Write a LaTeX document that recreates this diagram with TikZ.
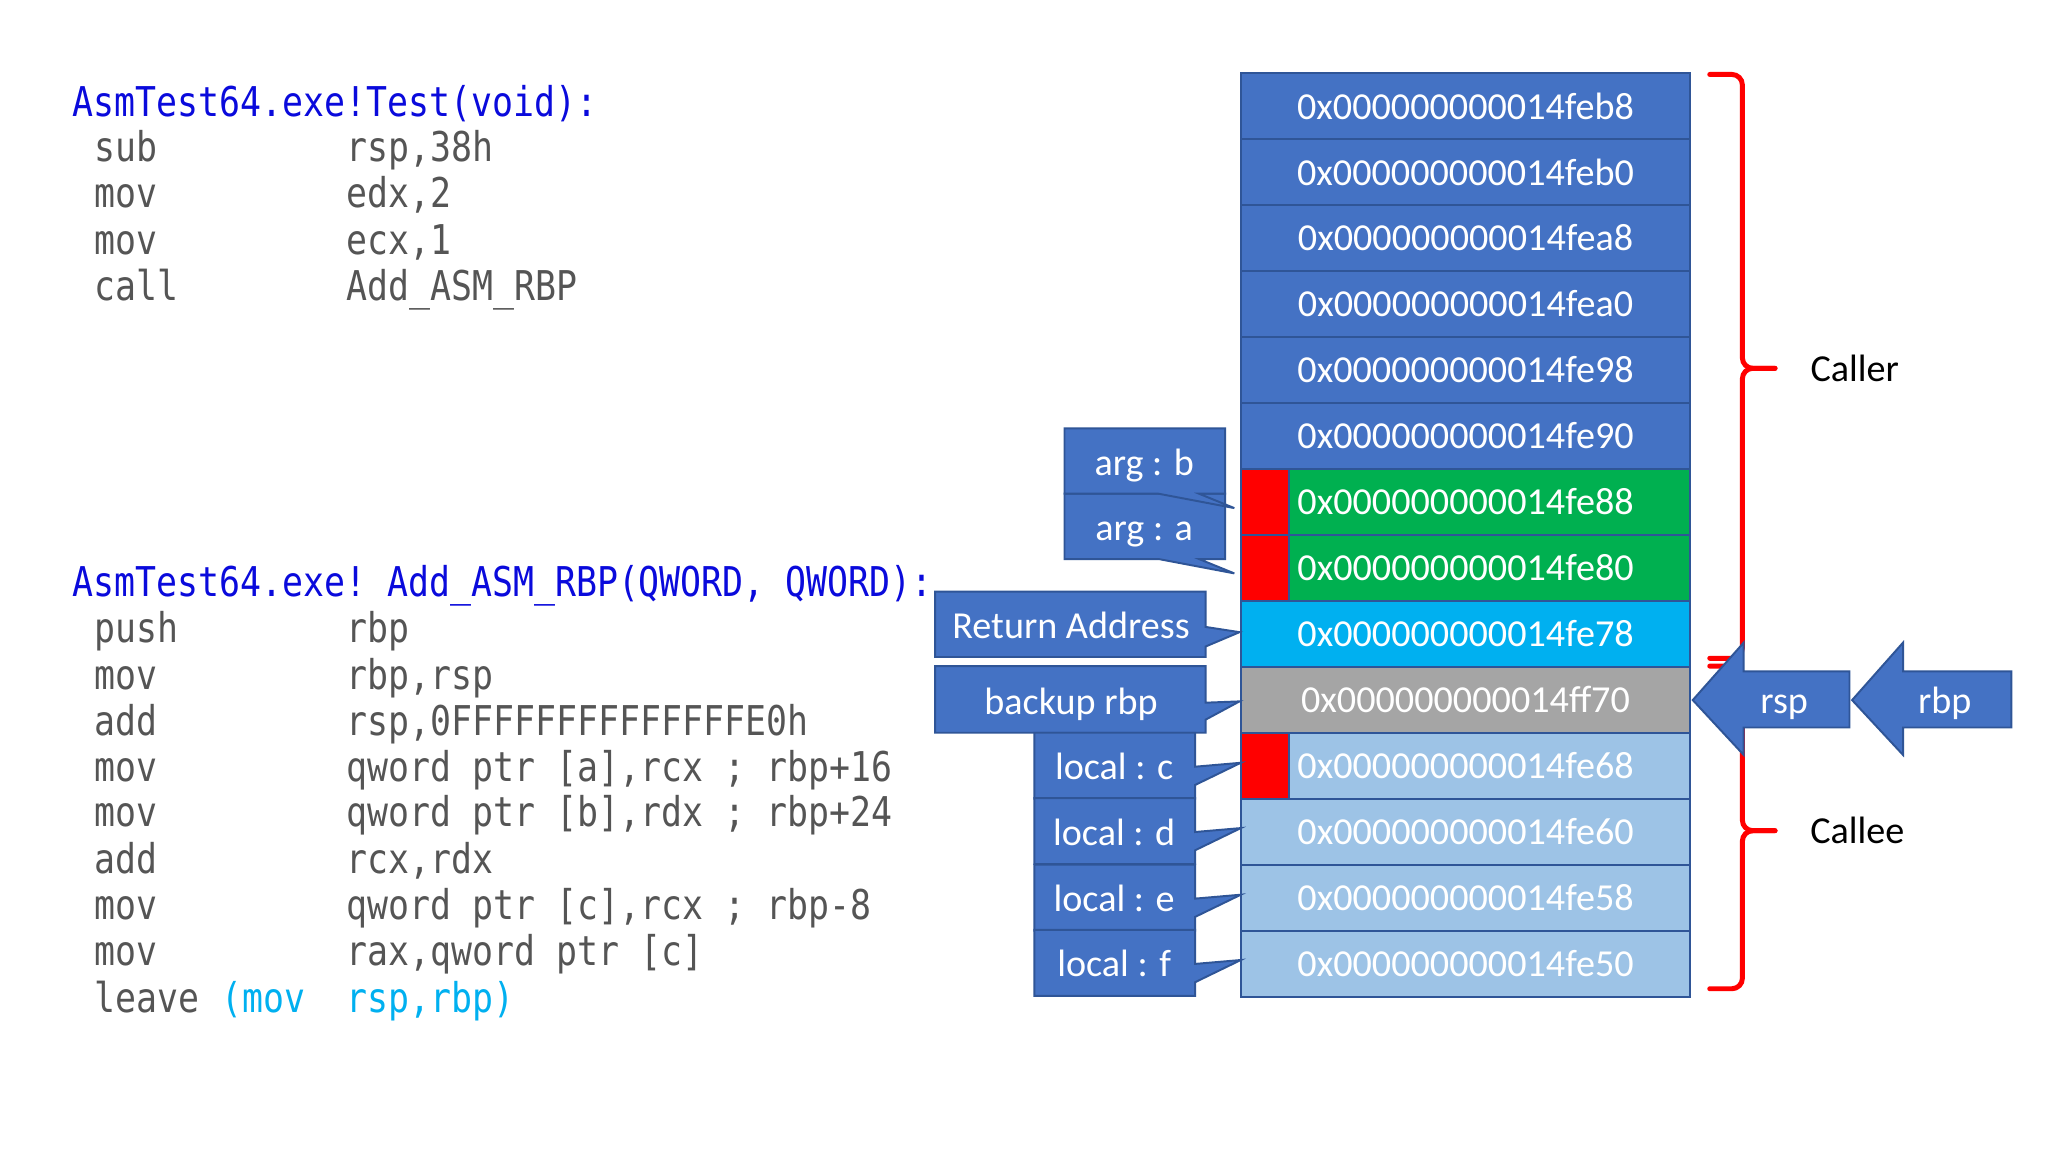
\documentclass[tikz,border=0pt]{standalone}
\usepackage{fontspec}
\setmainfont{Carlito}
\newfontfamily\codefont{DejaVu Sans Mono}[FakeStretch=0.85]
\definecolor{stackblue}{HTML}{4472C4}
\definecolor{stackborder}{HTML}{2F5597}
\definecolor{stackgreen}{HTML}{00B050}
\definecolor{stackcyan}{HTML}{00B0F0}
\definecolor{stackgray}{HTML}{A5A5A5}
\definecolor{stacklight}{HTML}{9DC3E6}
\definecolor{titleblue}{RGB}{10,10,220}
\definecolor{codegray}{RGB}{85,85,85}
\definecolor{codecyan}{HTML}{00B0F0}
\newcommand\csp{\hphantom{0}}
\newcommand\codeline[4]{%
  \node[code] (#1m) at (72,#2+11) {#3};
  \node[code] (#1o) at (265,#2+11) {#4};}
\begin{document}
\begin{tikzpicture}[x=0.5pt,y=-0.5pt,
  cell/.style={draw=stackborder,line width=0.75pt,minimum width=172pt,minimum height=25.25pt,
    inner sep=0pt,outer sep=0pt,text=white,font=\fontsize{14.6}{17}\selectfont},
  redcell/.style={draw=stackborder,line width=0.75pt,fill=red,minimum width=18.5pt,minimum height=25.25pt,
    inner sep=0pt,outer sep=0pt},
  callout/.style={draw=stackborder,line width=0.75pt,fill=stackblue,line join=miter},
  lbl/.style={text=white,inner sep=0pt,text height=11pt,text depth=3.6pt,yshift=-1.3pt,font=\fontsize{14.6}{17}\selectfont},
  side/.style={text=black,inner sep=0pt,font=\fontsize{14.6}{17}\selectfont},
  code/.style={anchor=base west,inner sep=0pt,text=codegray,font=\codefont\fontsize{15.7}{18}\selectfont},
  title/.style={code,text=titleblue},
  bracestyle/.style={draw=red,line width=1.9pt,rounded corners=4pt,line cap=round}
]
\useasboundingbox[fill=white] (0,0) rectangle (1568,882);

% ---- code ----
\node[title] (t1) at (55,78+11) {AsmTest64.exe!Test(void):};
\codeline{a1}{113}{sub}{rsp,38h}
\codeline{a2}{148}{mov}{edx,2}
\codeline{a3}{184}{mov}{ecx,1}
\codeline{a4}{219}{call}{Add\_ASM\_RBP}

\node[title] (t2) at (55,446+11) {AsmTest64.exe!\csp Add\_ASM\_RBP(QWORD,\csp QWORD):};
\codeline{b1}{481}{push}{rbp}
\codeline{b2}{517}{mov}{rbp,rsp}
\codeline{b3}{552}{add}{rsp,0FFFFFFFFFFFFFFE0h}
\codeline{b4}{587}{mov}{qword\csp ptr\csp [a],rcx\csp ;\csp rbp+16}
\codeline{b5}{622}{mov}{qword\csp ptr\csp [b],rdx\csp ;\csp rbp+24}
\codeline{b6}{658}{add}{rcx,rdx}
\codeline{b7}{693}{mov}{qword\csp ptr\csp [c],rcx\csp ;\csp rbp-8}
\codeline{b8}{728}{mov}{rax,qword\csp ptr\csp [c]}
\node[code] (b9m) at (72,764+11) {leave};
\node[code,text=codecyan] (b9p) at (169,764+11) {(mov};
\node[code,text=codecyan] (b9o) at (265,764+11) {rsp,rbp)};

% ---- stack ----
\foreach \i/\addr/\col in {1/feb8/stackblue,2/feb0/stackblue,3/fea8/stackblue,4/fea0/stackblue,
  5/fe98/stackblue,6/fe90/stackblue,7/fe88/stackgreen,8/fe80/stackgreen,9/fe78/stackcyan,
  10/ff70/stackgray,11/fe68/stacklight,12/fe60/stacklight,13/fe58/stacklight,14/fe50/stacklight}{
  \node[cell,fill=\col] (s\i) at (1122,{56+50.5*(\i-0.5)}) {0x000000000014\addr};
}
\foreach \i in {7,8,11}{
  \node[redcell] (red\i) at (968.5,{56+50.5*(\i-0.5)}) {};
}

% ---- callouts ----
\draw[callout] (815,378) -- (938,378) -- (938,428) -- (918,428) -- (945,439) -- (887,428) -- (815,428) -- cycle;
\node[lbl] (ca) at (876,404) {arg : a};
\draw[callout] (815,328) -- (938,328) -- (938,378) -- (918,378) -- (945,389) -- (887,378) -- (815,378) -- cycle;
\node[lbl] (cb) at (876,354) {arg : b};
\draw[callout] (716,453) -- (923,453) -- (923,480) -- (949,484) -- (923,495) -- (923,503) -- (716,503) -- cycle;
\node[lbl] (cret) at (820,479) {Return Address};
\draw[callout] (716,510) -- (923,510) -- (923,538) -- (949,537) -- (923,551) -- (923,561) -- (716,561) -- cycle;
\node[lbl] (cbk) at (820,537) {backup rbp};
\foreach \n/\t/\txt in {lc/561/local : c,ld/611/local : d,le/662/local : e,lf/712/local : f}{
  \draw[callout] (792,\t) -- (915,\t) -- (915,\t+26) -- (950,\t+23) -- (915,\t+40) -- (915,\t+50.5) -- (792,\t+50.5) -- cycle;
  \node[lbl] (\n) at (853,\t+26) {\txt};
}

% ---- braces ----
\draw[bracestyle] (1309,57) -- (1334,57) -- (1334,282) -- (1359,282);
\draw[bracestyle] (1359,282) -- (1334,282) -- (1334,504) -- (1309,504);
\draw[bracestyle] (1309,510) -- (1334,510) -- (1334,636) -- (1359,636);
\draw[bracestyle] (1359,636) -- (1334,636) -- (1334,757) -- (1309,757);
\node[side] (caller) at (1420,282) {Caller};
\node[side] (callee) at (1422,636) {Callee};

% ---- rsp / rbp arrows ----
\draw[callout] (1296,536) -- (1335,492) -- (1335,514) -- (1416,514) -- (1416,557) -- (1335,557) -- (1335,578) -- cycle;
\node[lbl] (rsp) at (1366,536) {rsp};
\draw[callout] (1418,536) -- (1457,492) -- (1457,514) -- (1540,514) -- (1540,557) -- (1457,557) -- (1457,578) -- cycle;
\node[lbl] (rbp) at (1489,536) {rbp};
\end{tikzpicture}
\end{document}
